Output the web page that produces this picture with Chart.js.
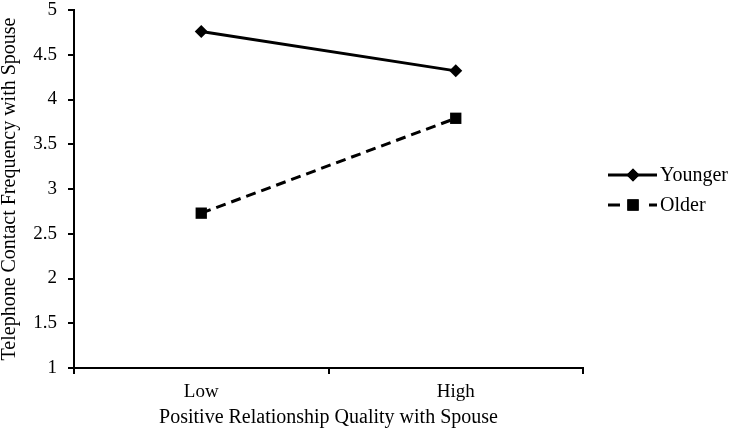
<!DOCTYPE html>
<html>
<head>
<meta charset="utf-8">
<script src="https://cdn.jsdelivr.net/npm/chart.js@4/dist/chart.umd.min.js"></script>
<style>
  html, body { margin: 0; padding: 0; background: #fff; }
  #wrap { width: 738px; height: 432px; }
</style>
</head>
<body>
<div id="wrap"><canvas id="c" width="738" height="432"></canvas></div>
<script>
const categories = ["Low", "High"];
const younger = [4.76, 4.32];
const older = [2.73, 3.79];
const seriesNames = ["Younger", "Older"];
const yMin = 1, yMax = 5, yStep = 0.5;
const xTitle = "Positive Relationship Quality with Spouse";
const yTitle = "Telephone Contact Frequency with Spouse";

const FONT = "'Liberation Serif', 'Times New Roman', serif";

const legendPlugin = {
  id: 'customLegend',
  afterDraw(chart) {
    const ctx = chart.ctx;
    const rows = [175, 205];
    chart.data.datasets.forEach((ds, i) => {
      const y = rows[i];
      const x0 = 608, x1 = 657, xm = 633;
      ctx.save();
      ctx.strokeStyle = '#000';
      ctx.lineWidth = 3;
      ctx.beginPath();
      if (ds.borderDash && ds.borderDash.length) {
        ctx.moveTo(x0, y); ctx.lineTo(x0 + 12, y);
        ctx.moveTo(x1 - 8, y); ctx.lineTo(x1, y);
      } else {
        ctx.moveTo(x0, y); ctx.lineTo(x1, y);
      }
      ctx.stroke();
      ctx.fillStyle = '#000';
      ctx.strokeStyle = '#000';
      Chart.helpers.drawPoint(ctx, {
        pointStyle: ds.pointStyle, radius: ds.pointRadius, rotation: 0, borderWidth: 0
      }, xm, y);
      ctx.fill();
      ctx.font = "20px " + FONT;
      ctx.textBaseline = 'middle';
      ctx.textAlign = 'left';
      ctx.fillText(ds.label, x1 + 3, y + 1);
      ctx.restore();
    });
  }
};

new Chart(document.getElementById('c'), {
  type: 'line',
  data: {
    labels: categories,
    datasets: [
      {
        label: seriesNames[0],
        data: younger,
        borderColor: '#000',
        backgroundColor: '#000',
        borderWidth: 3,
        pointStyle: 'rectRot',
        pointRadius: 6.5,
        pointBackgroundColor: '#000',
        pointBorderColor: '#000',
        pointBorderWidth: 0,
        tension: 0,
        fill: false
      },
      {
        label: seriesNames[1],
        data: older,
        borderColor: '#000',
        backgroundColor: '#000',
        borderWidth: 3,
        borderDash: [10, 6],
        pointStyle: 'rect',
        pointRadius: 8,
        pointBackgroundColor: '#000',
        pointBorderColor: '#000',
        pointBorderWidth: 0,
        tension: 0,
        fill: false
      }
    ]
  },
  options: {
    responsive: false,
    animation: false,
    devicePixelRatio: 1,
    layout: { padding: { left: 0, right: 155, top: 10, bottom: 0 } },
    plugins: {
      legend: { display: false },
      tooltip: { enabled: false }
    },
    scales: {
      x: {
        type: 'category',
        offset: true,
        grid: {
          display: true,
          offset: true,
          drawOnChartArea: false,
          drawTicks: true,
          tickLength: 6,
          color: '#000',
          lineWidth: 2
        },
        border: { display: true, color: '#000', width: 2 },
        ticks: {
          color: '#000',
          font: { family: FONT, size: 19 },
          padding: 7,
          maxRotation: 0
        },
        title: {
          display: true,
          text: xTitle,
          color: '#000',
          font: { family: FONT, size: 20, lineHeight: 1 },
          padding: { top: 0, bottom: 4 }
        },
        afterFit(scale) { scale.height = 64; scale.paddingLeft = 0; scale.paddingRight = 0; }
      },
      y: {
        min: yMin,
        max: yMax,
        grid: {
          display: true,
          drawOnChartArea: false,
          drawTicks: true,
          tickLength: 6,
          color: '#000',
          lineWidth: 2
        },
        border: { display: true, color: '#000', width: 2 },
        ticks: {
          stepSize: yStep,
          color: '#000',
          font: { family: FONT, size: 19 },
          padding: 11,
          callback: (v) => String(v)
        },
        title: {
          display: true,
          text: yTitle,
          color: '#000',
          font: { family: FONT, size: 20, lineHeight: 1 },
          padding: { top: 0, bottom: 0 }
        },
        afterFit(scale) { scale.width = 74; scale.paddingTop = 0; scale.paddingBottom = 0; }
      }
    }
  },
  plugins: [legendPlugin]
});
</script>
</body>
</html>
